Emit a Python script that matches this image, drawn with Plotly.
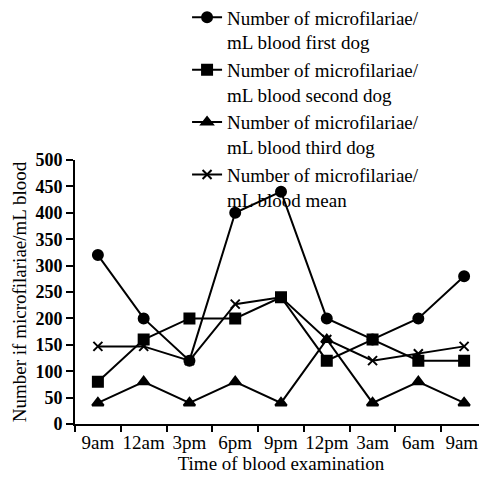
import plotly.graph_objects as go

times = ["9am", "12am", "3pm", "6pm", "9pm", "12pm", "3am", "6am", "9am "]
first_dog = [320, 200, 120, 400, 440, 200, 160, 200, 280]
second_dog = [80, 160, 200, 200, 240, 120, 160, 120, 120]
third_dog = [40, 80, 40, 80, 40, 160, 40, 80, 40]
mean_vals = [147, 147, 120, 227, 240, 160, 120, 133, 147]

names = [
    "Number of microfilariae/<br>mL blood first dog",
    "Number of microfilariae/<br>mL blood second dog",
    "Number of microfilariae/<br>mL blood third dog",
    "Number of microfilariae/<br>mL blood mean",
]
symbols = ["circle", "square", "triangle-up", "x-thin"]
sizes = [10, 10, 10, 9]
series = [first_dog, second_dog, third_dog, mean_vals]

FONT = "Liberation Serif"
fig = go.Figure()
for s, n, sym, sz in zip(series, names, symbols, sizes):
    fig.add_trace(go.Scatter(
        x=times, y=s, name=n, mode="lines+markers",
        line=dict(color="black", width=2),
        marker=dict(symbol=sym, size=sz, color="black",
                    line=dict(color="black", width=2)),
    ))

# page body has an 8px default margin, so the figure is offset by 8px
fig.update_layout(
    width=479, height=473,
    margin=dict(l=67, r=0, t=152, b=57, autoexpand=False),
    plot_bgcolor="white", paper_bgcolor="white",
    font=dict(family=FONT, size=19, color="black"),
    showlegend=True,
    legend=dict(
        x=0.272, y=1.612, xanchor="left", yanchor="top",
        bgcolor="rgba(0,0,0,0)", valign="top",
        tracegroupgap=0, itemwidth=30,
        font=dict(family=FONT, size=19, color="black"),
    ),
    xaxis=dict(
        type="category", range=[-0.5, 8.5],
        tickson="boundaries", ticks="outside", ticklen=6, tickwidth=2,
        tickcolor="black", showline=True, linecolor="black", linewidth=2,
        showgrid=False, zeroline=False, tickangle=0,
        title=dict(text="Time of blood examination", standoff=2,
                   font=dict(family=FONT, size=19)),
        tickfont=dict(family=FONT, size=19),
    ),
    yaxis=dict(
        range=[0, 500], dtick=50, ticks="outside", ticklen=7, tickwidth=2,
        tickcolor="black", showline=True, linecolor="black", linewidth=2,
        showgrid=False, zeroline=False,
        title=dict(text="Number if microfilariae/mL blood", standoff=4,
                   font=dict(family=FONT, size=19)),
        tickfont=dict(family=FONT, size=18, weight="bold"),
    ),
)

fig.write_html("out.html")
